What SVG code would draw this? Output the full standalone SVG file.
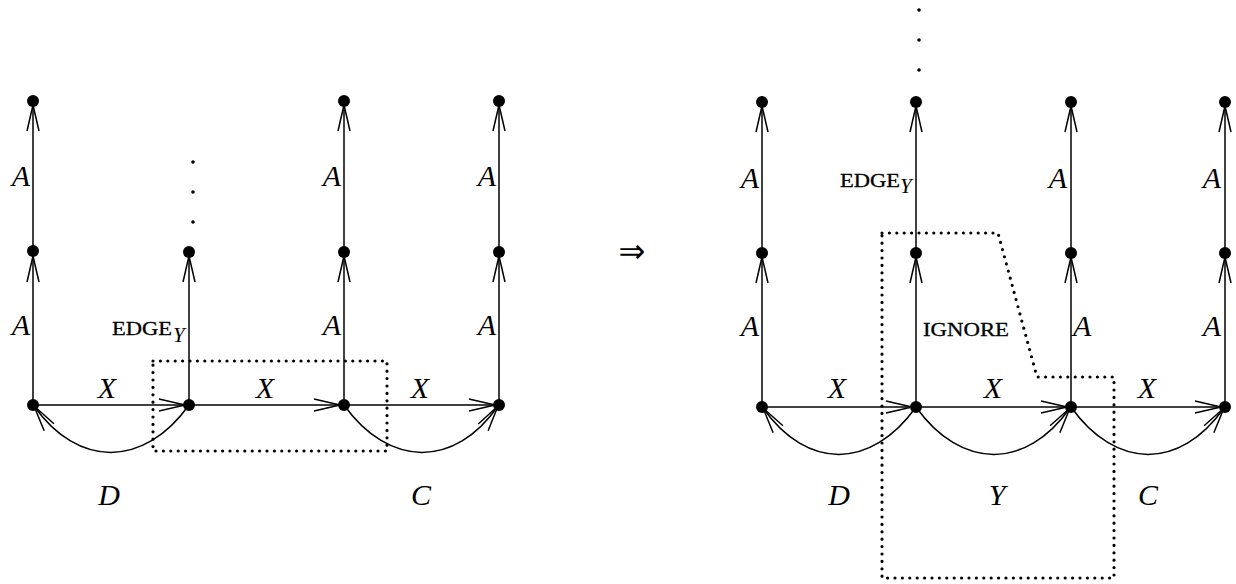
<svg xmlns="http://www.w3.org/2000/svg" width="1236" height="584" viewBox="0 0 1236 584">
<style>
.e{stroke:#000;stroke-width:1.5;fill:none;marker-end:url(#ah)}
.dot{stroke:#000;stroke-width:3.2;fill:none;stroke-linecap:round;stroke-dasharray:0 7.4}
.n{fill:#000}
.l{font-family:"Liberation Serif",serif;font-style:italic;font-size:30px;fill:#000}
.s{font-family:"Liberation Serif",serif;font-size:19.5px;fill:#000;stroke:#000;stroke-width:0.3}
.sub{font-family:"Liberation Serif",serif;font-style:italic;font-size:21px;fill:#000}
</style>
<defs>
<marker id="ah" markerUnits="userSpaceOnUse" orient="auto" markerWidth="1" markerHeight="1" overflow="visible">
<path d="M-26,-6 L0,0 L-26,6" fill="none" stroke="#000" stroke-width="1.5"/>
</marker>
</defs>
<g id="connectors">
<line class="e" x1="33" y1="405" x2="33" y2="256"/>
<line class="e" x1="33" y1="251" x2="33" y2="105"/>
<line class="e" x1="189" y1="405" x2="189" y2="256"/>
<line class="e" x1="344" y1="405" x2="344" y2="256"/>
<line class="e" x1="344" y1="252" x2="344" y2="105"/>
<line class="e" x1="499" y1="405" x2="499" y2="256"/>
<line class="e" x1="499" y1="252" x2="499" y2="105"/>
<line class="e" x1="33" y1="405" x2="185" y2="405"/>
<line class="e" x1="189" y1="405" x2="340" y2="405"/>
<line class="e" x1="344" y1="405" x2="495" y2="405"/>
<path class="e" d="M189,405 C144,468 78,468 34,406"/>
<path class="e" d="M344,405 C389,468 455,468 498,406"/>
<line class="e" x1="762" y1="407" x2="762" y2="257"/>
<line class="e" x1="762" y1="253" x2="762" y2="106"/>
<line class="e" x1="916" y1="407" x2="916" y2="257"/>
<line class="e" x1="916" y1="253" x2="916" y2="106"/>
<line class="e" x1="1071" y1="407" x2="1071" y2="257"/>
<line class="e" x1="1071" y1="253" x2="1071" y2="106"/>
<line class="e" x1="1225" y1="407" x2="1225" y2="257"/>
<line class="e" x1="1225" y1="253" x2="1225" y2="106"/>
<line class="e" x1="762" y1="407" x2="912" y2="407"/>
<line class="e" x1="916" y1="407" x2="1067" y2="407"/>
<line class="e" x1="1071" y1="407" x2="1221" y2="407"/>
<path class="e" d="M916,407 C871,470 807,470 763,408"/>
<path class="e" d="M916,407 C961,470 1026,470 1070,408"/>
<path class="e" d="M1071,407 C1116,470 1180,470 1224,408"/>
</g>
<g id="regions">
<rect class="dot" x="153" y="361" width="234" height="90"/>
<path class="dot" d="M882,233 L998,233 L1037,377 L1114,377 L1114,578 L882,578 Z"/>
</g>
<g id="left-nodes">
<g id="L1"><circle class="n" cx="33" cy="101" r="6"/></g>
<g id="L2"><circle class="n" cx="33" cy="251" r="6"/></g>
<g id="L3"><circle class="n" cx="33" cy="405" r="6"/></g>
<g id="L4"><circle class="n" cx="189" cy="252" r="6"/></g>
<g id="L5"><circle class="n" cx="189" cy="405" r="6"/></g>
<g id="L6"><circle class="n" cx="344" cy="101" r="6"/></g>
<g id="L7"><circle class="n" cx="344" cy="252" r="6"/></g>
<g id="L8"><circle class="n" cx="344" cy="405" r="6"/></g>
<g id="L9"><circle class="n" cx="499" cy="101" r="6"/></g>
<g id="L10"><circle class="n" cx="499" cy="252" r="6"/></g>
<g id="L11"><circle class="n" cx="499" cy="405" r="6"/></g>
<g id="Ldots"><circle cx="193" cy="162" r="1.8"/><circle cx="193" cy="192" r="1.8"/><circle cx="193" cy="222" r="1.8"/></g>
</g>
<g id="right-nodes">
<g id="R1"><circle class="n" cx="762" cy="102" r="6"/></g>
<g id="R2"><circle class="n" cx="762" cy="253" r="6"/></g>
<g id="R3"><circle class="n" cx="762" cy="407" r="6"/></g>
<g id="R4"><circle class="n" cx="916" cy="102" r="6"/></g>
<g id="R5"><circle class="n" cx="916" cy="253" r="6"/></g>
<g id="R6"><circle class="n" cx="916" cy="407" r="6"/></g>
<g id="R7"><circle class="n" cx="1071" cy="102" r="6"/></g>
<g id="R8"><circle class="n" cx="1071" cy="253" r="6"/></g>
<g id="R9"><circle class="n" cx="1071" cy="407" r="6"/></g>
<g id="R10"><circle class="n" cx="1225" cy="102" r="6"/></g>
<g id="R11"><circle class="n" cx="1225" cy="253" r="6"/></g>
<g id="R12"><circle class="n" cx="1225" cy="407" r="6"/></g>
<g id="Rdots"><circle cx="919" cy="10" r="1.8"/><circle cx="919" cy="40" r="1.8"/><circle cx="919" cy="70" r="1.8"/></g>
</g>
<g id="labels">
<text class="l" x="30" y="186" text-anchor="end">A</text>
<text class="l" x="30" y="335" text-anchor="end">A</text>
<text class="l" x="341" y="186" text-anchor="end">A</text>
<text class="l" x="341" y="335" text-anchor="end">A</text>
<text class="l" x="496" y="186" text-anchor="end">A</text>
<text class="l" x="496" y="335" text-anchor="end">A</text>
<text class="s" x="112" y="335" textLength="60" lengthAdjust="spacingAndGlyphs">EDGE</text>
<text class="sub" x="173" y="342">Y</text>
<text class="l" x="107" y="398" text-anchor="middle">X</text>
<text class="l" x="265" y="398" text-anchor="middle">X</text>
<text class="l" x="420" y="398" text-anchor="middle">X</text>
<text class="l" x="109" y="505" text-anchor="middle">D</text>
<text class="l" x="421" y="505" text-anchor="middle">C</text>
<text x="632" y="262" text-anchor="middle" style="font-family:'DejaVu Sans',sans-serif;font-size:32px">⇒</text>
<text class="l" x="759" y="188" text-anchor="end">A</text>
<text class="l" x="759" y="336" text-anchor="end">A</text>
<text class="s" x="840" y="187" textLength="60" lengthAdjust="spacingAndGlyphs">EDGE</text>
<text class="sub" x="900" y="193">Y</text>
<text class="s" x="923" y="336" textLength="86" lengthAdjust="spacingAndGlyphs">IGNORE</text>
<text class="l" x="1067" y="188" text-anchor="end">A</text>
<text class="l" x="1073" y="336">A</text>
<text class="l" x="1221" y="188" text-anchor="end">A</text>
<text class="l" x="1221" y="336" text-anchor="end">A</text>
<text class="l" x="837" y="398" text-anchor="middle">X</text>
<text class="l" x="993" y="398" text-anchor="middle">X</text>
<text class="l" x="1147" y="398" text-anchor="middle">X</text>
<text class="l" x="839" y="505" text-anchor="middle">D</text>
<text class="l" x="997" y="505" text-anchor="middle">Y</text>
<text class="l" x="1148" y="505" text-anchor="middle">C</text>
</g>
</svg>
